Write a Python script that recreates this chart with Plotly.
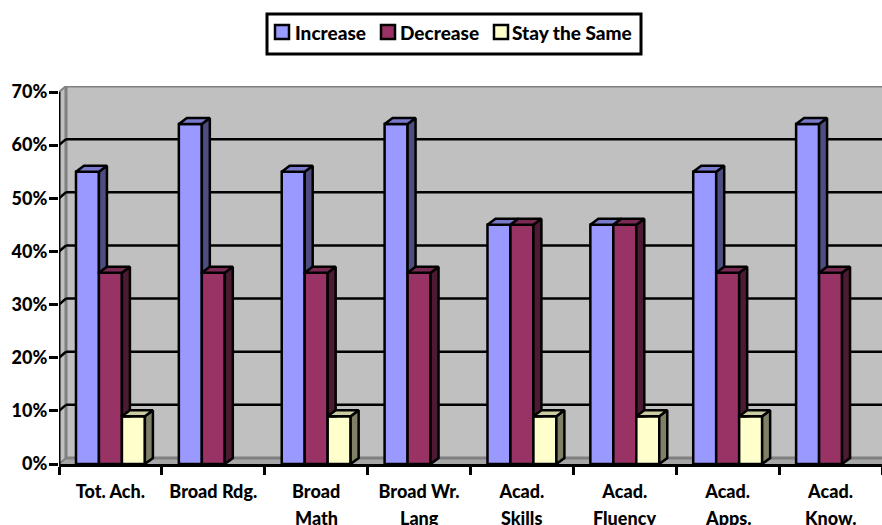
import plotly.graph_objects as go

categories_line1 = ["Tot. Ach.", "Broad Rdg.", "Broad", "Broad Wr.", "Acad.", "Acad.", "Acad.", "Acad."]
categories_line2 = ["", "", "Math", "Lang", "Skills", "Fluency", "Apps.", "Know."]
series_names = ["Increase", "Decrease", "Stay the Same"]
increase = [55, 64, 55, 64, 45, 45, 55, 64]
decrease = [36, 36, 36, 36, 45, 45, 36, 36]
stay_same = [9, None, 9, None, 9, 9, 9, None]
y_ticks = [0, 10, 20, 30, 40, 50, 60, 70]

front = ["#9999FF", "#993366", "#FFFFCC"]
side = ["#4D4D80", "#4D1A33", "#808066"]
top = ["#7A7ACC", "#7A2952", "#CCCCA3"]

W, H = 882, 525
L, R, T, B = 59, 0, 86, 61
FONT = "Lato"
WEIGHT = 900
n = len(categories_line1)
px_x = (W - L - R) / n
px_y = 372 / 70
y_max = (H - T - B) / px_y
bargap = 34 / 103
bw = (1 - bargap) / 3
ddx, ddy = 8 / px_x, 6 / px_y       # bar depth
wdx, wdy = 7 / px_x, 6 / px_y       # wall depth
centers = [i + 0.5 for i in range(n)]
all_series = [increase, decrease, stay_same]

fig = go.Figure()
for s, vals in enumerate(all_series):
    fig.add_bar(x=centers, y=vals, name=series_names[s], showlegend=False,
                marker=dict(color=front[s], line=dict(color="black", width=2.5)))

# depth faces of the bars, derived from the values
for s, vals in enumerate(all_series):
    nxt = all_series[s + 1] if s < 2 else [None] * n
    for i, v in enumerate(vals):
        if v is None:
            continue
        xl = centers[i] + (s - 1.5) * bw
        xr = xl + bw
        base = nxt[i] or 0
        base = min(base, v)
        fig.add_scatter(x=[xr, xr + ddx, xr + ddx, xr, xr],
                        y=[v, v + ddy, (base + ddy) if base == 0 else base, base, v],
                        mode="lines", fill="toself", fillcolor=side[s],
                        line=dict(color="black", width=2.5), showlegend=False, hoverinfo="skip")
        fig.add_scatter(x=[xl, xl + ddx, xr + ddx, xr, xl],
                        y=[v, v + ddy, v + ddy, v, v],
                        mode="lines", fill="toself", fillcolor=top[s],
                        line=dict(color="black", width=2.5), showlegend=False, hoverinfo="skip")

GREY = "#808080"
WALL = "#C0C0C0"
shapes = [
    dict(type="path", path=f"M 0 0 L 0 70 L {wdx} {70 + wdy} L {n} {70 + wdy} L {n} 0 Z",
         fillcolor=WALL, line=dict(width=0), layer="below"),
    dict(type="path", path=f"M 0 0 L {wdx} {wdy} L {n} {wdy} L {n} 0 Z",
         fillcolor="#A6A6A6", line=dict(width=0), layer="below"),
    dict(type="line", x0=wdx, x1=n, y0=wdy, y1=wdy, line=dict(color=GREY, width=3), layer="below"),
    dict(type="line", x0=wdx, x1=n, y0=70 + wdy, y1=70 + wdy, line=dict(color=GREY, width=3), layer="below"),
    dict(type="line", x0=wdx, x1=wdx, y0=wdy, y1=70 + wdy, line=dict(color=GREY, width=3), layer="below"),
    dict(type="line", x0=0, x1=wdx, y0=70, y1=70 + wdy, line=dict(color=GREY, width=2), layer="below"),
    dict(type="line", x0=0, x1=wdx, y0=0, y1=wdy, line=dict(color=GREY, width=2), layer="below"),
]
for t in y_ticks[1:-1]:
    shapes.append(dict(type="line", x0=wdx, x1=n, y0=t + wdy, y1=t + wdy,
                       line=dict(color="black", width=2.5), layer="below"))
    shapes.append(dict(type="line", x0=0, x1=wdx, y0=t, y1=t + wdy,
                       line=dict(color="black", width=2.5), layer="below"))
shapes.append(dict(type="line", x0=0, x1=0, y0=0, y1=70, line=dict(color="black", width=3), layer="above"))

annotations = [
    dict(x=c, y=0, xref="x", yref="paper", yanchor="top", yshift=-41, showarrow=False, text=t,
         font=dict(family=FONT, size=18, color="black", weight=WEIGHT))
    for c, t in zip(centers, categories_line2) if t
]

# legend box, placed in pixels of the figure
def px(x):
    return (x - L) / (W - L - R)
def py(y):
    return (H - B - y) / (H - T - B)

shapes.append(dict(type="rect", xref="paper", yref="paper", x0=px(267), x1=px(641), y0=py(54), y1=py(14),
                   fillcolor="white", line=dict(color="black", width=3)))
for s, (sw_x, text_x) in enumerate(zip([275, 381, 494], [295, 400, 512])):
    shapes.append(dict(type="rect", xref="paper", yref="paper", x0=px(sw_x), x1=px(sw_x + 14),
                       y0=py(39), y1=py(25), fillcolor=front[s], line=dict(color="black", width=2.5)))
    annotations.append(dict(x=px(text_x), y=py(32), xref="paper", yref="paper", xanchor="left", yanchor="middle",
                            showarrow=False, text=series_names[s], xshift=-2,
                            font=dict(family=FONT, size=19, color="black", weight=WEIGHT)))

fig.update_layout(
    width=W, height=H,
    margin=dict(l=L, r=R, t=T, b=B, autoexpand=False),
    paper_bgcolor="white", plot_bgcolor="white",
    barmode="group", bargap=bargap, bargroupgap=0,
    shapes=shapes, annotations=annotations, showlegend=False,
    font=dict(family=FONT, color="black"),
    xaxis=dict(range=[0, n], tickvals=centers, ticktext=categories_line1,
               ticks="", showgrid=False, zeroline=False, showline=True, linecolor="black", linewidth=3,
               tickfont=dict(family=FONT, size=18, color="black", weight=WEIGHT), ticklabelstandoff=9,
               minor=dict(dtick=1, tick0=0, ticks="outside", ticklen=8, tickwidth=3, tickcolor="black")),
    yaxis=dict(range=[0, y_max], tickvals=y_ticks, ticktext=[f"{t}%" for t in y_ticks],
               ticks="outside", ticklen=9, tickwidth=3, tickcolor="black", showgrid=False, zeroline=False,
               showline=False, tickfont=dict(family=FONT, size=18, color="black", weight=WEIGHT),
               ticklabelstandoff=-2),
)
fig.write_html("out.html", post_script="document.body.style.margin='0';", config={"displayModeBar": False})
